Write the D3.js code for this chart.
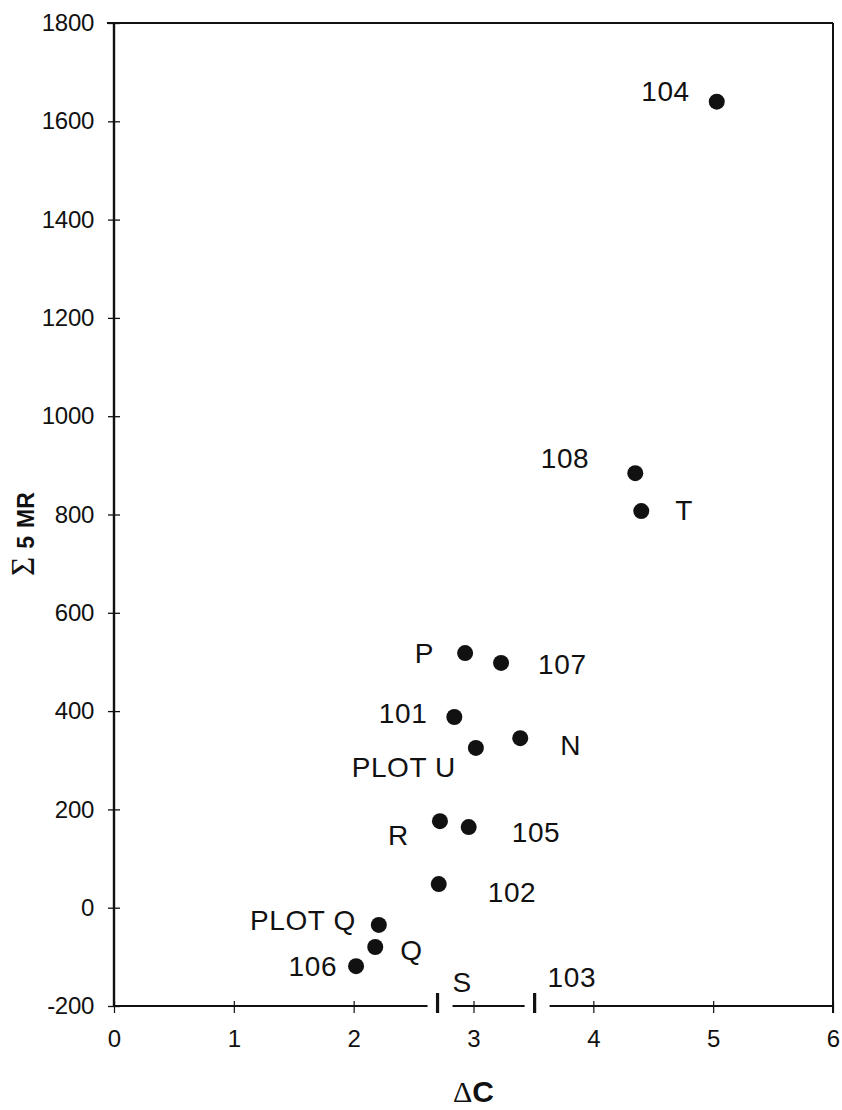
<!DOCTYPE html>
<html>
<head>
<meta charset="utf-8">
<script src="https://cdn.jsdelivr.net/npm/d3@7"></script>
<style>
  html, body { margin: 0; padding: 0; background: #fff; }
  svg { display: block; }
  text { font-family: "Liberation Sans", Arial, sans-serif; fill: #111; }
</style>
</head>
<body>
<svg id="chart" width="842" height="1110"></svg>
<script>
// Plot sites: change in C (x) against summed 5-year mortality/recruitment (y)
const siteNames = ["104", "108", "T", "P", "107", "101", "N", "PLOT U", "R", "105", "102", "PLOT Q", "Q", "106"];
const deltaC    = [5.03, 4.35, 4.40, 2.93, 3.23, 2.84, 3.39, 3.02, 2.72, 2.96, 2.71, 2.21, 2.18, 2.02];
const sumMR     = [1640, 884, 807, 518, 498, 388, 345, 325, 176, 164, 48, -35, -80, -119];

// Sites whose value sits on the lower limit of the axis (shown as bars)
const edgeNames = ["S", "103"];
const edgeDeltaC = [2.70, 3.51];
const edgeSumMR  = [-200, -200];

const xTicks = [0, 1, 2, 3, 4, 5, 6];
const yTicks = [-200, 0, 200, 400, 600, 800, 1000, 1200, 1400, 1600, 1800];

// Label placement relative to each mark: [dx, dy, anchor]
const labelLayout = {
  "104": [-27, -10, "end"], "108": [-46, -15, "end"], "T": [34, -1, "start"],
  "P": [-31, 0, "end"], "107": [37, 1, "start"], "101": [-27, -4, "end"],
  "N": [40, 7, "start"], "PLOT U": [-20, 19, "end"], "R": [-31, 14, "end"],
  "105": [43, 5, "start"], "102": [49, 8, "start"], "PLOT Q": [-23, -5, "end"],
  "Q": [25, 3, "start"], "106": [-19, 0, "end"], "S": [15, -24, "start"],
  "103": [13, -29, "start"]
};

const svg = d3.select("#chart");
const plotL = 114, plotR = 833, plotT = 23, plotB = 1006;

const x = d3.scaleLinear().domain([0, 6]).range([plotL, plotR]);
const y = d3.scaleLinear().domain([-200, 1800]).range([plotB, plotT]);

// Frame: top and right borders
svg.append("line").attr("x1", plotL - 7).attr("x2", plotR).attr("y1", plotT).attr("y2", plotT)
  .attr("stroke", "#111").attr("stroke-width", 2);
svg.append("line").attr("x1", plotR).attr("x2", plotR).attr("y1", plotT).attr("y2", plotB + 7)
  .attr("stroke", "#111").attr("stroke-width", 2);

// Y axis
const yAxis = svg.append("g").attr("transform", `translate(${plotL},0)`)
  .call(d3.axisLeft(y).tickValues(yTicks).tickSize(6).tickPadding(14).tickFormat(d => String(d)));
yAxis.attr("font-size", null).attr("font-family", null);
yAxis.select(".domain").attr("stroke", "#111").attr("stroke-width", 2.4)
  .attr("d", `M0,${plotT}V${plotB}`);
yAxis.selectAll(".tick line").attr("x1", -6).attr("x2", 6).attr("stroke", "#111").attr("stroke-width", 1.3);
yAxis.selectAll(".tick text").style("font-size", "24px").attr("fill", "#111").attr("letter-spacing", -0.3);

// X axis
const xAxis = svg.append("g").attr("transform", `translate(0,${plotB})`)
  .call(d3.axisBottom(x).tickValues(xTicks).tickSize(7).tickPadding(17).tickFormat(d => String(d)));
xAxis.attr("font-size", null).attr("font-family", null);
xAxis.select(".domain").attr("stroke", "#111").attr("stroke-width", 2.2)
  .attr("d", `M${plotL},0H${plotR}`);
xAxis.selectAll(".tick line").attr("y1", -5).attr("y2", 7).attr("stroke", "#111").attr("stroke-width", 1.2);
xAxis.selectAll(".tick text").style("font-size", "24px").attr("fill", "#111");

// Bars on the axis for sites at the lower limit, with a clear gap around each
const edge = svg.append("g");
edgeNames.forEach((name, i) => {
  const cx = x(edgeDeltaC[i]), cy = y(edgeSumMR[i]);
  edge.append("rect").attr("x", cx - 10).attr("y", cy - 3).attr("width", 25).attr("height", 6).attr("fill", "#fff");
  edge.append("rect").attr("x", cx - 1.6).attr("y", cy - 13).attr("width", 3.2).attr("height", 20).attr("fill", "#111");
  const [dx, dy, anchor] = labelLayout[name];
  edge.append("text").attr("x", cx + dx).attr("y", cy + dy).attr("dy", "0.35em")
    .attr("text-anchor", anchor).style("font-size", "28px").attr("letter-spacing", 0.6).text(name);
});

// Points
const pts = svg.append("g");
siteNames.forEach((name, i) => {
  const cx = x(deltaC[i]), cy = y(sumMR[i]);
  pts.append("circle").attr("cx", cx).attr("cy", cy).attr("r", 8).attr("fill", "#111");
  const [dx, dy, anchor] = labelLayout[name];
  pts.append("text").attr("x", cx + dx).attr("y", cy + dy).attr("dy", "0.35em")
    .attr("text-anchor", anchor).style("font-size", "28px").attr("letter-spacing", 0.6).text(name);
});

// Axis titles
const xTitle = svg.append("text").attr("x", (plotL + plotR) / 2).attr("y", 1102).attr("text-anchor", "middle");
xTitle.append("tspan").style("font-family", "Liberation Serif, serif").style("font-size", "30px").text("Δ");
xTitle.append("tspan").style("font-size", "30px").attr("font-weight", "bold").text("C");

const yTitle = svg.append("text").attr("transform", "translate(34,576) rotate(-90)").attr("text-anchor", "start");
yTitle.append("tspan").style("font-family", "Liberation Serif, serif").style("font-size", "33px").text("Σ");
yTitle.append("tspan").attr("dx", 8).attr("font-weight", "bold").style("font-size", "23px").text("5");
yTitle.append("tspan").attr("dx", 8).attr("font-weight", "bold").style("font-size", "23px").text("MR");
</script>
</body>
</html>
